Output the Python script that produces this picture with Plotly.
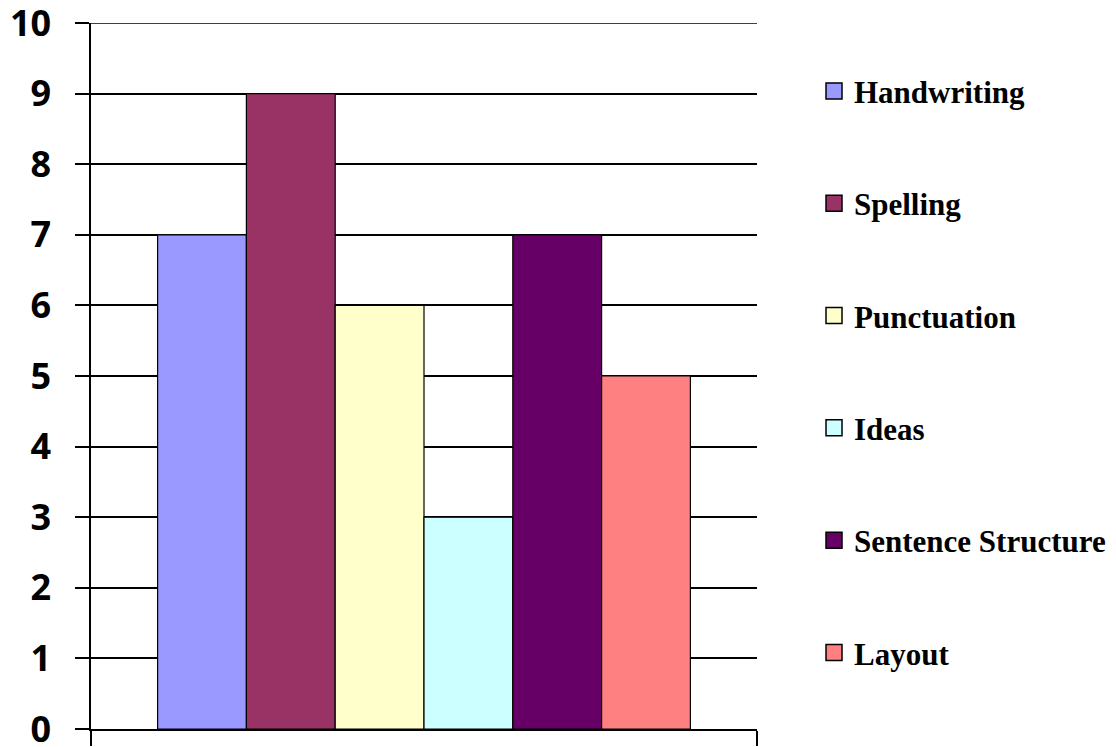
import plotly.graph_objects as go

categories = ["Writing"]
series_names = ["Handwriting", "Spelling", "Punctuation", "Ideas", "Sentence Structure", "Layout"]
series_values = [7, 9, 6, 3, 7, 5]
series_colors = ["#9999FF", "#993366", "#FFFFCC", "#CCFFFF", "#660066", "#FF8080"]
y_ticks = list(range(0, 11))

fig = go.Figure()
for i, (name, val, col) in enumerate(zip(series_names, series_values, series_colors)):
    fig.add_trace(go.Bar(
        x=categories, y=[val], name=name,
        marker=dict(color=col, line=dict(color="black", width=1.2)),
        legendgroup=name, showlegend=False,
    ))
# legend entries (larger square swatches than the default bar legend symbol)
for name, col in zip(series_names, series_colors):
    fig.add_trace(go.Scatter(
        x=categories, y=[None], name=name, mode="markers",
        marker=dict(symbol="square", size=16, color=col, line=dict(color="black", width=1.5)),
        legendgroup=name, showlegend=True, hoverinfo="skip",
    ))

# top gridline at the range maximum (plotly omits grid lines on the plot edge)
fig.add_shape(type="line", xref="paper", yref="y", x0=-0.021, x1=1,
              y0=y_ticks[-1], y1=y_ticks[-1], line=dict(color="black", width=1.5))

fig.update_layout(
    width=1108, height=739,
    margin=dict(l=83, r=359, t=15, b=18, autoexpand=False),
    paper_bgcolor="white", plot_bgcolor="white",
    barmode="group", bargap=0.2, bargroupgap=0,
    showlegend=True,
    legend=dict(
        x=1.0856, xanchor="left", y=0.9415, yanchor="top",
        font=dict(family="Liberation Serif", size=31, color="black", weight="bold"),
        tracegroupgap=69, bgcolor="rgba(0,0,0,0)", itemsizing="trace",
    ),
    xaxis=dict(
        type="category", showticklabels=False, tickson="boundaries",
        ticks="outside", ticklen=15, tickcolor="black", tickwidth=1.5,
        showline=True, linecolor="black", linewidth=1.5, showgrid=False,
        automargin=False,
    ),
    yaxis=dict(
        range=[0, 10], tickvals=y_ticks, ticks="outside", ticklen=14,
        tickcolor="black", tickwidth=1.5,
        showgrid=True, gridcolor="black", gridwidth=1.5,
        showline=True, linecolor="black", linewidth=1.5,
        tickfont=dict(family="Open Sans", size=36, color="black", weight="bold"),
        ticklabelstandoff=17, zeroline=False, automargin=False,
        ticklabeloverflow="allow",
    ),
)

fig.write_html("out.html")
